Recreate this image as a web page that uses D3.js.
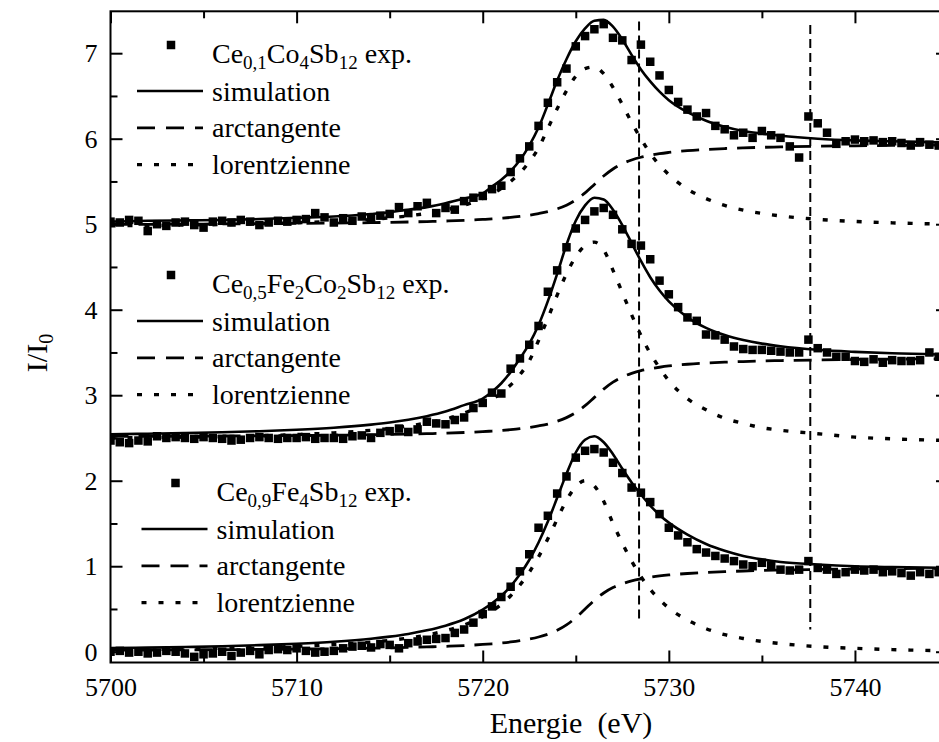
<!DOCTYPE html>
<html>
<head>
<meta charset="utf-8">
<script src="https://cdnjs.cloudflare.com/ajax/libs/d3/7.8.5/d3.min.js"></script>
<style>
  body { margin: 0; background: #fff; }
  svg { display: block; }
  svg text { font-family: "Liberation Serif", "Times New Roman", Times, serif; }
</style>
</head>
<body>
<svg id="drawing_region"></svg>
<script>
// energies of the fitted curves (eV)
const curveEnergy = [5700, 5702, 5704, 5706, 5708, 5710, 5712, 5714,
    5715, 5716, 5717, 5718, 5719,
    5720, 5720.5, 5721, 5721.5, 5722, 5722.5, 5723, 5723.5, 5724, 5724.5, 5725,
    5725.5, 5726, 5726.5, 5727, 5727.5, 5728, 5728.5, 5729, 5729.5, 5730,
    5731, 5732, 5733, 5734, 5735, 5736,
    5738, 5740, 5742, 5745];

// Ce0,1Co4Sb12 (offset 5)
const simulation1 = [5.03, 5.04, 5.045, 5.05, 5.06, 5.075, 5.09, 5.12,
    5.14, 5.17, 5.20, 5.245, 5.30,
    5.36, 5.44, 5.52, 5.62, 5.75, 5.92, 6.13, 6.40, 6.68, 6.93, 7.14,
    7.29, 7.38, 7.39, 7.31, 7.16, 6.98, 6.81, 6.67, 6.55, 6.45,
    6.31, 6.21, 6.14, 6.09, 6.06, 6.035,
    6.00, 5.98, 5.97, 5.955];
const arctangente1 = [4.998, 4.999, 5.001, 5.003, 5.006, 5.009, 5.013, 5.018,
    5.022, 5.026, 5.031, 5.037, 5.045,
    5.056, 5.062, 5.070, 5.079, 5.091, 5.105, 5.124, 5.147, 5.179, 5.223, 5.284,
    5.366, 5.465, 5.564, 5.646, 5.708, 5.751, 5.783, 5.806, 5.825, 5.839,
    5.860, 5.874, 5.885, 5.893, 5.899, 5.904,
    5.912, 5.917, 5.921, 5.926];
const lorentzienne1 = [4.982, 4.985, 4.990, 4.996, 5.004, 5.016, 5.032, 5.056,
    5.075, 5.097, 5.127, 5.167, 5.221,
    5.30, 5.35, 5.42, 5.50, 5.60, 5.73, 5.89, 6.12, 6.35, 6.56, 6.73,
    6.82, 6.84, 6.76, 6.60, 6.40, 6.19, 6.00, 5.83, 5.69, 5.58,
    5.41, 5.30, 5.22, 5.165, 5.126, 5.097,
    5.057, 5.032, 5.016, 5.000];

// Ce0,5Fe2Co2Sb12 (offset 2.5)
const simulation2 = [2.544, 2.550, 2.558, 2.567, 2.579, 2.596, 2.620, 2.656,
    2.681, 2.713, 2.755, 2.809, 2.884,
    2.96, 3.04, 3.14, 3.27, 3.43, 3.60, 3.82, 4.10, 4.42, 4.76, 5.04,
    5.22, 5.31, 5.29, 5.17, 4.99, 4.78, 4.57, 4.38, 4.225, 4.098,
    3.911, 3.787, 3.703, 3.645, 3.603, 3.572,
    3.531, 3.507, 3.490, 3.475];
const arctangente2 = [2.518, 2.519, 2.521, 2.523, 2.525, 2.528, 2.532, 2.538,
    2.541, 2.545, 2.550, 2.556, 2.564,
    2.574, 2.581, 2.588, 2.597, 2.608, 2.623, 2.641, 2.663, 2.695, 2.738, 2.797,
    2.878, 2.975, 3.072, 3.153, 3.213, 3.255, 3.287, 3.309, 3.327, 3.342,
    3.362, 3.376, 3.386, 3.394, 3.400, 3.405,
    3.412, 3.418, 3.422, 3.426];
const lorentzienne2 = [2.50, 2.505, 2.51, 2.515, 2.525, 2.54, 2.56, 2.59,
    2.61, 2.64, 2.675, 2.72, 2.79,
    2.89, 2.95, 3.03, 3.12, 3.24, 3.40, 3.64, 3.90, 4.17, 4.42, 4.62,
    4.75, 4.79, 4.70, 4.46, 4.20, 3.94, 3.70, 3.49, 3.32, 3.17,
    2.96, 2.83, 2.73, 2.67, 2.62, 2.59,
    2.55, 2.51, 2.49, 2.47];

// Ce0,9Fe4Sb12 (no offset)
const simulation3 = [0.043, 0.048, 0.055, 0.064, 0.077, 0.094, 0.117, 0.152,
    0.177, 0.208, 0.250, 0.305, 0.380,
    0.492, 0.566, 0.655, 0.766, 0.905, 1.073, 1.278, 1.522, 1.80, 2.08, 2.33,
    2.48, 2.52, 2.45, 2.31, 2.14, 1.98, 1.84, 1.71, 1.60, 1.51,
    1.37, 1.26, 1.18, 1.12, 1.08, 1.05,
    1.02, 1.00, 0.99, 0.98];
const arctangente3 = [0.019, 0.020, 0.022, 0.024, 0.027, 0.031, 0.035, 0.041,
    0.045, 0.050, 0.056, 0.063, 0.072,
    0.085, 0.093, 0.102, 0.114, 0.129, 0.148, 0.172, 0.205, 0.250, 0.313, 0.398,
    0.500, 0.602, 0.687, 0.750, 0.795, 0.828, 0.852, 0.871, 0.886, 0.898,
    0.915, 0.928, 0.937, 0.944, 0.950, 0.955,
    0.962, 0.967, 0.971, 0.976];
const lorentzienne3 = [0.024, 0.028, 0.033, 0.040, 0.050, 0.063, 0.083, 0.112,
    0.133, 0.160, 0.196, 0.245, 0.313,
    0.41, 0.475, 0.555, 0.655, 0.78, 0.93, 1.11, 1.32, 1.55, 1.77, 1.93,
    2.0, 1.94, 1.76, 1.50, 1.27, 1.06, 0.88, 0.73, 0.61, 0.51,
    0.37, 0.27, 0.20, 0.155, 0.12, 0.095,
    0.06, 0.04, 0.025, 0.01];

// measured points (eV)
const expEnergy = [5700, 5700.5, 5701, 5701.5, 5702, 5702.5, 5703, 5703.5, 5704, 5704.5,
    5705, 5705.5, 5706, 5706.5, 5707, 5707.5, 5708, 5708.5, 5709, 5709.5,
    5710, 5710.5, 5711, 5711.5, 5712, 5712.5, 5713, 5713.5, 5714, 5714.5,
    5715, 5715.5, 5716, 5716.5, 5717, 5717.5, 5718, 5718.5, 5719, 5719.5,
    5720, 5720.5, 5721, 5721.5, 5722, 5722.5, 5723, 5723.5, 5724, 5724.5,
    5725, 5725.5, 5726, 5726.5, 5727, 5727.5, 5728, 5728.5, 5729, 5729.5,
    5730, 5730.5, 5731, 5731.5, 5732, 5732.5, 5733, 5733.5, 5734, 5734.5,
    5735, 5735.5, 5736, 5736.5, 5737, 5737.5, 5738, 5738.5, 5739, 5739.5,
    5740, 5740.5, 5741, 5741.5, 5742, 5742.5, 5743, 5743.5, 5744, 5744.5,
    5745];
const exp1 = [5.03, 5.02, 5.05, 5.04, 4.92, 5.00, 4.98, 5.02, 5.03, 4.99,
    4.96, 5.03, 5.04, 5.02, 5.05, 5.03, 4.99, 5.02, 5.04, 5.03,
    5.05, 5.06, 5.13, 5.08, 5.02, 5.07, 5.04, 5.09, 5.06, 5.10,
    5.12, 5.20, 5.13, 5.21, 5.25, 5.13, 5.19, 5.17, 5.27, 5.31,
    5.33, 5.41, 5.45, 5.61, 5.77, 5.91, 6.15, 6.42, 6.66, 6.82,
    7.08, 7.20, 7.28, 7.34, 7.18, 7.15, 6.92, 7.10, 6.90, 6.74,
    6.57, 6.43, 6.34, 6.26, 6.30, 6.15, 6.11, 6.04, 6.07, 6.01,
    6.09, 6.04, 6.01, 5.91, 5.78, 6.26, 6.18, 6.07, 5.94, 5.97,
    5.99, 5.97, 5.98, 5.96, 5.97, 5.95, 5.92, 5.96, 5.93, 5.92,
    5.91];
const exp2 = [2.47, 2.45, 2.44, 2.47, 2.46, 2.52, 2.50, 2.51, 2.50, 2.49,
    2.51, 2.50, 2.49, 2.47, 2.48, 2.50, 2.51, 2.50, 2.49, 2.50,
    2.50, 2.51, 2.49, 2.50, 2.50, 2.49, 2.52, 2.53, 2.50, 2.56,
    2.58, 2.61, 2.57, 2.60, 2.69, 2.67, 2.66, 2.71, 2.74, 2.85,
    2.91, 3.03, 3.02, 3.31, 3.43, 3.59, 3.81, 4.21, 4.46, 4.73,
    4.95, 5.05, 5.15, 5.19, 5.11, 4.94, 4.77, 4.75, 4.59, 4.34,
    4.18, 4.03, 3.91, 3.87, 3.71, 3.70, 3.65, 3.57, 3.54, 3.53,
    3.53, 3.52, 3.51, 3.50, 3.50, 3.65, 3.55, 3.50, 3.45, 3.45,
    3.40, 3.39, 3.42, 3.38, 3.41, 3.40, 3.40, 3.41, 3.50, 3.45,
    3.46];
const exp3 = [0.00, 0.01, -0.01, 0.00, -0.02, -0.01, 0.01, 0.00, -0.02, -0.06,
    -0.03, -0.02, 0.00, -0.05, -0.01, 0.01, -0.03, 0.02, 0.03, 0.02,
    0.04, 0.01, -0.01, 0.00, 0.01, 0.04, 0.06, 0.07, 0.05, 0.09,
    0.08, 0.04, 0.10, 0.12, 0.14, 0.15, 0.16, 0.22, 0.26, 0.34,
    0.44, 0.53, 0.64, 0.76, 0.94, 1.14, 1.45, 1.59, 1.85, 2.05,
    2.27, 2.35, 2.37, 2.33, 2.21, 2.09, 1.92, 1.86, 1.75, 1.61,
    1.45, 1.36, 1.28, 1.20, 1.16, 1.12, 1.09, 1.06, 1.02, 1.00,
    1.04, 1.01, 0.96, 0.95, 0.96, 1.06, 0.98, 0.96, 0.91, 0.93,
    0.96, 0.95, 0.96, 0.93, 0.94, 0.92, 0.89, 0.93, 0.91, 0.93,
    0.92];

// vertical marker lines
const markerEnergy = [5728.4, 5737.6];
const markerTop = [7.37, 7.33];
const markerBottom = [0.34, 0.26];

// ticks
const xTicks = [5700, 5710, 5720, 5730, 5740];
const xMinorTicks = [5705, 5715, 5725, 5735, 5745];
const yTicks = [0, 1, 2, 3, 4, 5, 6, 7];
const yMinorTicks = [0.5, 1.5, 2.5, 3.5, 4.5, 5.5, 6.5];

// legend texts: [text, subscript?]
const sampleName1 = [["Ce", false], ["0,1", true], ["Co", false], ["4", true], ["Sb", false], ["12", true], [" exp.", false]];
const sampleName2 = [["Ce", false], ["0,5", true], ["Fe", false], ["2", true], ["Co", false], ["2", true], ["Sb", false], ["12", true], [" exp.", false]];
const sampleName3 = [["Ce", false], ["0,9", true], ["Fe", false], ["4", true], ["Sb", false], ["12", true], [" exp.", false]];
const rowNames = ["simulation", "arctangente", "lorentzienne"];

const SERIF = 'Liberation Serif';

class XanesChart {

    constructor( config ) {
        this.config = {
            parent: config.parent,
            width: config.width || 939,
            height: config.height || 742,
            margin: config.margin || {top:11, right:0, bottom:80, left:110}
        };
        this.groups = [
            { sim: simulation1, arc: arctangente1, lor: lorentzienne1, exp: exp1, name: sampleName1, dx: 0,   dy: 0 },
            { sim: simulation2, arc: arctangente2, lor: lorentzienne2, exp: exp2, name: sampleName2, dx: 0,   dy: 230 },
            { sim: simulation3, arc: arctangente3, lor: lorentzienne3, exp: exp3, name: sampleName3, dx: 4.5, dy: 438 }
        ];
        this.init();
    }

    init() {
        let self = this;

        self.svg = d3.select( self.config.parent )
            .attr('width', self.config.width)
            .attr('height', self.config.height)
            .attr('font-family', SERIF);

        self.inner_width = self.config.width - self.config.margin.left - self.config.margin.right;
        self.inner_height = self.config.height - self.config.margin.top - self.config.margin.bottom;

        self.chart = self.svg.append('g')
            .attr('transform', `translate(${self.config.margin.left}, ${self.config.margin.top})`);

        self.svg.append('defs').append('clipPath')
            .attr('id', 'plot_clip')
            .append('rect')
            .attr('width', self.inner_width)
            .attr('height', self.inner_height);

        self.xscale = d3.scaleLinear()
            .domain([5700, 5745])
            .range([0, self.inner_width]);

        self.yscale = d3.scaleLinear()
            .domain([-0.126, 7.49])
            .range([self.inner_height, 0]);

        self.line = d3.line()
            .x( d => self.xscale(d.x) )
            .y( d => self.yscale(d.y) )
            .curve( d3.curveMonotoneX );

        self.plot = self.chart.append('g')
            .attr('clip-path', 'url(#plot_clip)');
    }

    render() {
        let self = this;

        // marker lines
        self.plot.selectAll('.marker')
            .data(markerEnergy)
            .join('line')
            .attr('x1', d => self.xscale(d))
            .attr('x2', d => self.xscale(d))
            .attr('y1', (d, i) => self.yscale(markerTop[i]))
            .attr('y2', (d, i) => self.yscale(markerBottom[i]))
            .attr('stroke', '#000')
            .attr('stroke-width', 2)
            .attr('stroke-dasharray', '9,5');

        self.groups.forEach( g => {
            const pts = arr => curveEnergy.map( (e, i) => ({x: e, y: arr[i]}) );

            self.plot.append('path')
                .attr('d', self.line(pts(g.lor)))
                .attr('fill', 'none')
                .attr('stroke', '#000')
                .attr('stroke-width', 3.4)
                .attr('stroke-dasharray', '5,12');

            self.plot.append('path')
                .attr('d', self.line(pts(g.arc)))
                .attr('fill', 'none')
                .attr('stroke', '#000')
                .attr('stroke-width', 2.8)
                .attr('stroke-dasharray', '18,10');

            self.plot.append('g')
                .selectAll('rect')
                .data(expEnergy)
                .join('rect')
                .attr('x', d => self.xscale(d) - 4.25)
                .attr('y', (d, i) => self.yscale(g.exp[i]) - 4.25)
                .attr('width', 8.5)
                .attr('height', 8.5)
                .attr('fill', '#000');

            self.plot.append('path')
                .attr('d', self.line(pts(g.sim)))
                .attr('fill', 'none')
                .attr('stroke', '#000')
                .attr('stroke-width', 2.6);
        });

        self.drawAxes();
        self.drawLegend();
    }

    drawAxes() {
        let self = this;

        const bottom = self.chart.append('g')
            .attr('transform', `translate(0, ${self.inner_height})`);
        bottom.append('g').call( d3.axisBottom(self.xscale).tickValues(xTicks)
            .tickSizeInner(-12).tickSizeOuter(0).tickPadding(15).tickFormat(d3.format('d')) );
        bottom.append('g').call( d3.axisBottom(self.xscale).tickValues(xMinorTicks)
            .tickSizeInner(-7).tickSizeOuter(0).tickFormat('') );

        const top = self.chart.append('g');
        top.append('g').call( d3.axisTop(self.xscale).tickValues(xTicks)
            .tickSizeInner(-12).tickSizeOuter(0).tickFormat('') );
        top.append('g').call( d3.axisTop(self.xscale).tickValues(xMinorTicks)
            .tickSizeInner(-7).tickSizeOuter(0).tickFormat('') );

        const left = self.chart.append('g');
        left.append('g').call( d3.axisLeft(self.yscale).tickValues(yTicks)
            .tickSizeInner(-12).tickSizeOuter(0).tickPadding(13).tickFormat(d3.format('d')) );
        left.append('g').call( d3.axisLeft(self.yscale).tickValues(yMinorTicks)
            .tickSizeInner(-7).tickSizeOuter(0).tickFormat('') );

        const right = self.chart.append('g')
            .attr('transform', `translate(${self.inner_width}, 0)`);
        right.append('g').call( d3.axisRight(self.yscale).tickValues(yTicks)
            .tickSizeInner(-12).tickSizeOuter(0).tickFormat('') );
        right.append('g').call( d3.axisRight(self.yscale).tickValues(yMinorTicks)
            .tickSizeInner(-7).tickSizeOuter(0).tickFormat('') );

        // d3 puts sans-serif on the axis groups, take it off
        self.chart.selectAll('g').attr('font-family', null);
        self.chart.selectAll('.domain').remove();
        self.chart.selectAll('.tick line')
            .attr('stroke', '#000')
            .attr('stroke-width', 2);
        self.chart.selectAll('.tick text')
            .attr('fill', '#000')
            .attr('font-size', 26)
            .attr('font-family', SERIF);

        self.chart.append('rect')
            .attr('width', self.inner_width)
            .attr('height', self.inner_height)
            .attr('fill', 'none')
            .attr('stroke', '#000')
            .attr('stroke-width', 2);

        // axis titles
        self.svg.append('text')
            .attr('x', 571)
            .attr('y', 733)
            .attr('text-anchor', 'middle')
            .attr('font-family', SERIF)
            .attr('font-size', 30)
            .style('white-space', 'pre')
            .text('Energie  (eV)');

        const ylabel = self.svg.append('text')
            .attr('transform', 'translate(47, 353) rotate(-90)')
            .attr('text-anchor', 'middle')
            .attr('font-family', SERIF)
            .attr('font-size', 30);
        ylabel.append('tspan').text('I/I');
        ylabel.append('tspan').attr('font-size', 20).attr('dy', 6).text('0');
    }

    drawLegend() {
        let self = this;

        self.groups.forEach( g => {
            const lg = self.svg.append('g')
                .attr('transform', `translate(${g.dx}, ${g.dy})`);

            lg.append('rect')
                .attr('x', 171 - 4.25)
                .attr('y', 45 - 4.25)
                .attr('width', 8.5)
                .attr('height', 8.5);

            const title = lg.append('text')
                .attr('x', 212)
                .attr('y', 63)
                .attr('font-family', SERIF)
                .attr('font-size', 28)
                .style('white-space', 'pre');
            let shifted = false;
            g.name.forEach( p => {
                const t = title.append('tspan').text(p[0]);
                if (p[1]) {
                    t.attr('font-size', 19);
                    if (!shifted) t.attr('dy', 6);
                    shifted = true;
                } else if (shifted) {
                    t.attr('dy', -6);
                    shifted = false;
                }
            });

            const styles = [
                {w: 2.6, dash: null},
                {w: 2.8, dash: '18,11'},
                {w: 3.4, dash: '5,12'}
            ];
            rowNames.forEach( (name, i) => {
                const ly = 91 + i * 36.8;
                lg.append('line')
                    .attr('x1', 137)
                    .attr('x2', 203)
                    .attr('y1', ly)
                    .attr('y2', ly)
                    .attr('stroke', '#000')
                    .attr('stroke-width', styles[i].w)
                    .attr('stroke-dasharray', styles[i].dash);
                lg.append('text')
                    .attr('x', 212)
                    .attr('y', ly + 9.5)
                    .attr('font-family', SERIF)
                    .attr('font-size', 28)
                    .text(name);
            });
        });
    }
}

const chart = new XanesChart({
    parent: '#drawing_region',
    width: 939,
    height: 742,
    margin: {top:11.3, right:-9, bottom:79.5, left:110.5}
});
chart.render();
</script>
</body>
</html>
